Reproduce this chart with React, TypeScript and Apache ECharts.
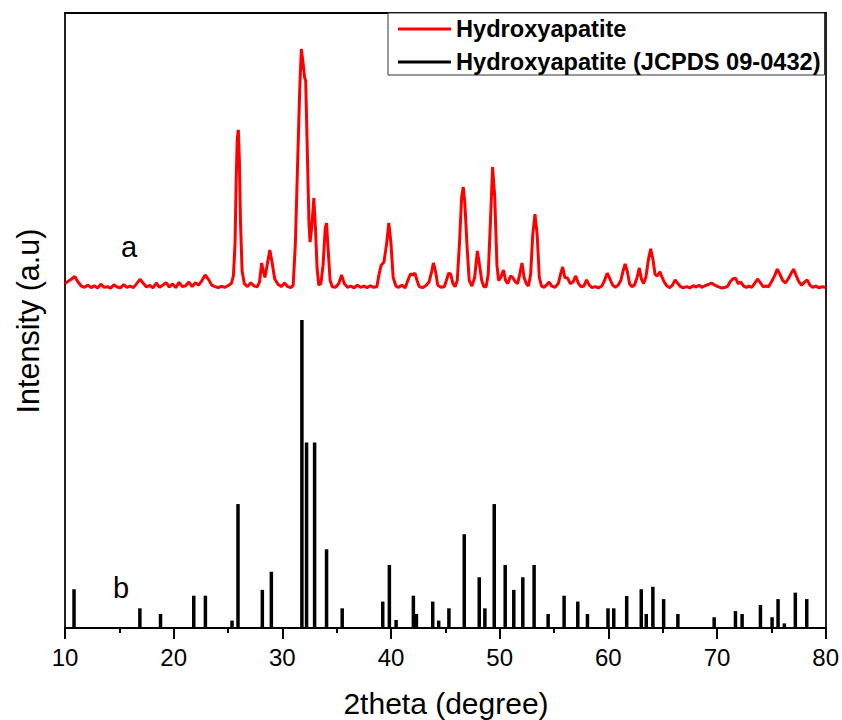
import React, { useEffect, useRef } from "react";
import * as echarts from "echarts";

// 2theta (deg), intensity (axis units, pattern a offset above pattern b)
const hapX = [
  10.0, 10.3, 10.6, 10.9, 11.2, 11.5, 11.8, 12.1, 12.4, 12.7, 13.0, 13.3, 13.6, 13.9, 14.2, 14.5, 14.8, 15.1, 15.4, 15.7,
  16.0, 16.3, 16.6, 16.9, 17.2, 17.5, 17.8, 18.1, 18.4, 18.7, 19.0, 19.3, 19.6, 19.9, 20.2, 20.5, 20.8, 21.1, 21.4, 21.7,
  22.0, 22.3, 22.6, 22.9, 23.2, 23.5, 23.8, 24.1, 24.4, 24.7, 25.0, 25.3, 25.5, 25.65, 25.75, 25.85, 25.95, 26.05, 26.15, 26.3,
  26.5, 26.8, 27.1, 27.4, 27.7, 27.9, 28.1, 28.25, 28.4, 28.6, 28.85, 29.05, 29.3, 29.6, 29.9, 30.2, 30.5, 30.8, 31.0, 31.2,
  31.4, 31.6, 31.75, 31.9, 32.05, 32.15, 32.3, 32.45, 32.55, 32.7, 32.9, 33.05, 33.2, 33.35, 33.55, 33.75, 33.95, 34.07, 34.2, 34.4,
  34.6, 34.9, 35.2, 35.45, 35.7, 36.0, 36.3, 36.6, 36.9, 37.2, 37.5, 37.8, 38.1, 38.4, 38.7, 38.9, 39.1, 39.35, 39.6, 39.8,
  40.0, 40.2, 40.45, 40.7, 41.0, 41.3, 41.6, 41.8, 42.0, 42.2, 42.4, 42.6, 42.9, 43.2, 43.5, 43.75, 43.9, 44.1, 44.3, 44.6,
  44.9, 45.1, 45.3, 45.5, 45.7, 45.9, 46.1, 46.3, 46.5, 46.65, 46.8, 47.0, 47.2, 47.45, 47.7, 47.95, 48.15, 48.35, 48.55, 48.75,
  48.95, 49.15, 49.35, 49.55, 49.75, 49.9, 50.1, 50.35, 50.55, 50.75, 51.0, 51.2, 51.45, 51.65, 51.85, 52.05, 52.25, 52.45, 52.65, 52.85,
  53.05, 53.25, 53.45, 53.65, 53.85, 54.1, 54.3, 54.55, 54.8, 55.1, 55.4, 55.6, 55.8, 56.0, 56.25, 56.5, 56.75, 57.0, 57.25, 57.5,
  57.75, 58.0, 58.25, 58.5, 58.8, 59.1, 59.4, 59.65, 59.9, 60.15, 60.4, 60.65, 60.9, 61.15, 61.35, 61.55, 61.75, 61.95, 62.15, 62.4,
  62.65, 62.85, 63.05, 63.25, 63.45, 63.7, 63.9, 64.1, 64.3, 64.5, 64.75, 64.95, 65.15, 65.4, 65.65, 65.9, 66.15, 66.4, 66.65, 66.9,
  67.2, 67.5, 67.8, 68.1, 68.35, 68.6, 68.9, 69.2, 69.5, 69.8, 70.1, 70.4, 70.7, 71.0, 71.2, 71.45, 71.7, 71.95, 72.2, 72.45,
  72.7, 72.95, 73.2, 73.45, 73.75, 74.0, 74.25, 74.5, 74.75, 75.0, 75.3, 75.55, 75.8, 76.05, 76.3, 76.55, 76.85, 77.05, 77.3, 77.55,
  77.8, 78.05, 78.3, 78.55, 78.8, 79.1, 79.4, 79.7, 80.0,
];
const hapY = [
  112.0, 112.8, 113.5, 114.3, 112.5, 111.2, 110.8, 111.5, 110.7, 111.3, 110.6, 111.8, 110.8, 111.0, 110.5, 111.6, 110.9, 110.6, 111.7, 110.8,
  111.2, 110.7, 112.0, 113.4, 112.1, 110.9, 111.4, 110.6, 112.2, 110.8, 111.5, 112.3, 110.9, 111.9, 110.7, 112.4, 111.0, 111.3, 112.5, 111.0,
  112.3, 111.5, 113.0, 114.8, 113.4, 111.5, 111.0, 110.7, 111.1, 110.8, 111.3, 112.0, 114.5, 125, 145, 159, 162, 152, 132, 116,
  112, 111, 112.3, 111.2, 111.0, 112.5, 118.7, 116, 114, 118, 122.9, 119, 113.5, 111.8, 111.0, 112.2, 111.0, 110.7, 111.5, 125,
  150, 175, 188.3, 184, 179, 178, 155, 132, 125.5, 130, 139.8, 130, 117, 111.5, 112, 118, 130, 131.7, 124, 113,
  111, 110.8, 112, 114.8, 112, 110.8, 111.2, 110.6, 111.5, 110.8, 111.2, 110.7, 111.3, 110.8, 111.0, 115, 118, 119, 125, 131.7,
  125, 114, 111.2, 110.8, 111.5, 110.6, 113.5, 115.2, 114.8, 115.4, 113, 111.0, 110.7, 111.3, 112.5, 116, 118.7, 116, 111.5, 110.8,
  111.0, 113, 115.4, 115, 112, 111, 113, 125, 140, 143.4, 138, 124, 113, 111.2, 114, 122.6, 118, 113, 111, 111.0,
  115, 132, 149.9, 140, 118, 113, 114, 116.4, 113, 112, 114.5, 114, 112.5, 112, 115, 118.7, 114, 112, 111.2, 115,
  128, 134.6, 128, 114, 111.2, 110.8, 111.5, 112.5, 111.2, 110.8, 112, 115, 117.4, 114, 113.8, 112, 112.5, 114.5, 112, 111,
  111.2, 113.2, 111.5, 110.7, 111.0, 110.6, 111.2, 113, 115.4, 113.5, 111.5, 110.8, 111.5, 113, 116, 118.4, 116, 112, 111.0, 111.5,
  114, 117.1, 113.5, 112, 114, 120, 123.3, 120, 115, 114.5, 115.8, 114, 112.5, 111.2, 110.7, 111.5, 113.2, 112, 111, 110.6,
  111.0, 110.6, 111.3, 110.9, 111.5, 110.8, 111.3, 111.7, 112.2, 111.5, 111.0, 110.6, 110.7, 111.2, 112.5, 113.5, 113.8, 112.0, 112.5, 111.2,
  110.8, 111.2, 110.8, 112.0, 113.5, 112.2, 111.0, 111.2, 111.0, 112.5, 114.5, 116.7, 115.0, 113, 112.2, 113.5, 115.5, 116.7, 114.5, 112.5,
  111.5, 112.5, 113.2, 111.5, 110.8, 111.2, 110.6, 111.0, 110.8,
];

// JCPDS 09-0432 reference lines
const refX = [
  10.83, 16.89, 18.79, 21.85, 22.92, 25.37, 25.92, 28.16, 28.99, 31.8, 32.23, 32.97, 34.07, 35.51,
  39.24, 39.85, 40.47, 42.06, 42.34, 43.84, 44.39, 45.33, 46.74, 48.12, 48.64, 49.5, 50.51, 51.3,
  52.13, 53.17, 54.46, 55.93, 57.19, 58.08, 59.97, 60.5, 61.69, 63.03, 63.49, 64.1, 65.09, 66.4,
  69.74, 71.7, 72.31, 74.0, 75.07, 75.62, 76.2, 77.21, 78.26,
];
const refY = [
  12.6, 6.4, 4.55, 10.5, 10.5, 2.4, 40.3, 12.4, 18.3, 100.2, 60.3, 60.3, 25.6, 6.4,
  8.6, 20.5, 2.6, 10.5, 4.55, 8.6, 2.4, 6.4, 30.5, 16.5, 6.4, 40.3, 20.5, 12.4,
  16.5, 20.5, 4.55, 10.5, 8.6, 4.55, 6.4, 6.4, 10.4, 12.6, 4.55, 13.4, 9.4, 4.55,
  3.5, 5.5, 4.55, 7.5, 3.5, 9.4, 1.5, 11.5, 9.4,
];

const seriesNames = ["Hydroxyapatite", "Hydroxyapatite (JCPDS 09-0432)"];
const xTicks = [10, 20, 30, 40, 50, 60, 70, 80];
const FONT = "'Liberation Sans', Arial, Helvetica, sans-serif";

export default function App() {
  const ref = useRef<HTMLDivElement>(null);
  useEffect(() => {
    if (!ref.current) return;
    const chart = echarts.init(ref.current, null, { renderer: "svg" });
    const lineData = hapX.map((x, i) => [x, hapY[i]]);
    const barData = refX.map((x, i) => [x, refY[i]]);
    chart.setOption({
      animation: false,
      backgroundColor: "#fff",
      textStyle: { fontFamily: FONT },
      grid: { left: 65, right: 15, top: 13, bottom: 92, containLabel: false },
      legend: {
        data: [
          { name: seriesNames[0], icon: "rect" },
          { name: seriesNames[1], icon: "rect" },
        ],
        orient: "vertical",
        left: 388,
        top: 13,
        padding: [4, 4, 1, 10],
        itemWidth: 53,
        itemHeight: 3,
        itemGap: 9,
        borderColor: "#333",
        borderWidth: 1,
        backgroundColor: "#fff",
        textStyle: { fontFamily: FONT, fontWeight: "bold", fontSize: 23.6, color: "#000" },
      },
      xAxis: [
        {
          type: "value",
          min: xTicks[0],
          max: xTicks[xTicks.length - 1],
          interval: 10,
          axisLine: { show: true, onZero: false, lineStyle: { color: "#000", width: 2 } },
          axisTick: { show: true, inside: false, length: 11, lineStyle: { color: "#000", width: 2 } },
          minorTick: { show: true, splitNumber: 2, length: 5, lineStyle: { color: "#000", width: 2 } },
          axisLabel: { fontSize: 24, color: "#000", margin: 17, fontFamily: FONT },
          splitLine: { show: false },
        },
        {
          type: "value",
          position: "top",
          min: xTicks[0],
          max: xTicks[xTicks.length - 1],
          interval: 10,
          axisLine: { show: true, onZero: false, lineStyle: { color: "#000", width: 2 } },
          axisTick: { show: false },
          axisLabel: { show: false },
          splitLine: { show: false },
        },
      ],
      yAxis: [
        {
          type: "value",
          min: 0,
          max: 200,
          axisLine: { show: true, onZero: false, lineStyle: { color: "#222", width: 2 } },
          axisTick: { show: false },
          axisLabel: { show: false },
          splitLine: { show: false },
        },
        {
          type: "value",
          position: "right",
          min: 0,
          max: 200,
          axisLine: { show: true, onZero: false, lineStyle: { color: "#222", width: 2 } },
          axisTick: { show: false },
          axisLabel: { show: false },
          splitLine: { show: false },
        },
      ],
      series: [
        {
          name: seriesNames[0],
          type: "line",
          data: lineData,
          showSymbol: false,
          symbol: "none",
          color: "#ff0000",
          lineStyle: { color: "#ff0000", width: 3 },
          z: 3,
        },
        {
          name: seriesNames[1],
          type: "bar",
          data: barData,
          barWidth: 3.5,
          color: "#000",
          itemStyle: { color: "#000" },
          z: 2,
        },
      ],
      graphic: [
        {
          type: "text",
          x: 129,
          y: 247,
          style: { text: "a", fontSize: 29, fontFamily: FONT, fill: "#000", align: "center", verticalAlign: "middle" },
        },
        {
          type: "text",
          x: 121,
          y: 588,
          style: { text: "b", fontSize: 29, fontFamily: FONT, fill: "#000", align: "center", verticalAlign: "middle" },
        },
        {
          type: "text",
          x: 446,
          y: 703,
          style: { text: "2theta (degree)", fontSize: 30, fontFamily: FONT, fill: "#000", align: "center", verticalAlign: "middle" },
        },
        {
          type: "text",
          x: 28,
          y: 321,
          rotation: Math.PI / 2,
          style: { text: "Intensity (a.u)", fontSize: 30.5, fontFamily: FONT, fill: "#000", align: "center", verticalAlign: "middle" },
        },
      ],
    });
    return () => chart.dispose();
  }, []);
  return <div ref={ref} style={{ position: "fixed", left: 0, top: 0, width: 842, height: 720 }} />;
}
